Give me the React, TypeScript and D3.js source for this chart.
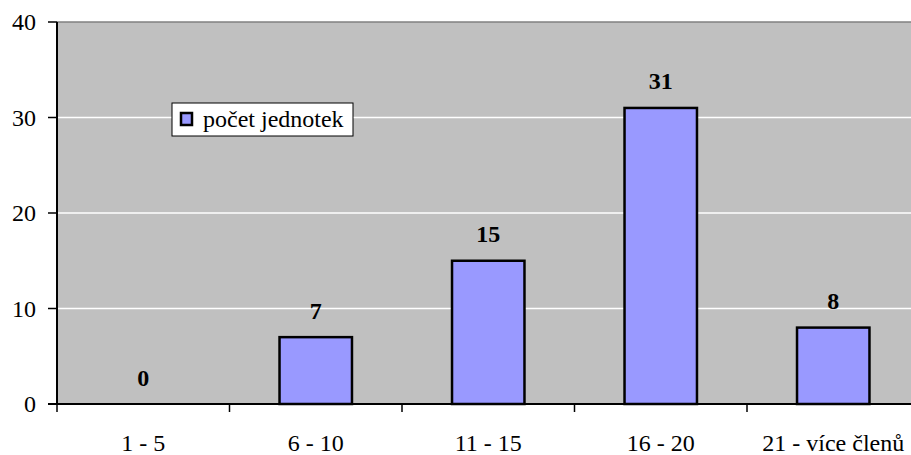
import React from "react";
import * as d3 from "d3";

const categories = ["1 - 5", "6 - 10", "11 - 15", "16 - 20", "21 - více členů"];
const values = [0, 7, 15, 31, 8];
const yTicks = [0, 10, 20, 30, 40];
const seriesName = "počet jednotek";

const W = 911;
const H = 455;
const plotLeft = 57;
const plotTop = 22;
const plotBottom = 404;
const bandW = 172.5;
const plotRight = plotLeft + bandW * categories.length;
const FONT = "Liberation Serif";
const FS = 24;

export default function App() {
  const x = d3.scaleBand().domain(categories).range([plotLeft, plotRight]).padding(0);
  const y = d3.scaleLinear().domain([0, 40]).range([plotBottom, plotTop]);
  const barW = x.bandwidth() * 0.42;

  return (
    <svg width={W} height={H} style={{ position: "absolute", left: 0, top: 0 }}>
      <rect x={0} y={0} width={W} height={H} fill="#fff" />
      <rect x={plotLeft} y={plotTop} width={plotRight - plotLeft} height={plotBottom - plotTop} fill="#C0C0C0" />
      <line x1={plotLeft} x2={plotRight} y1={plotTop} y2={plotTop} stroke="#808080" strokeWidth={1.5} />
      {yTicks.filter((t) => t > 0 && t < 40).map((t) => (
        <line key={t} x1={plotLeft} x2={plotRight} y1={y(t)} y2={y(t)} stroke="#fff" strokeWidth={1.5} />
      ))}
      {values.map((v, i) => {
        const cx = x(categories[i]) + x.bandwidth() / 2;
        return (
          <g key={i}>
            {v > 0 && (
              <rect
                x={cx - barW / 2}
                y={y(v)}
                width={barW}
                height={plotBottom - y(v)}
                fill="#9999FF"
                stroke="#000"
                strokeWidth={2.5}
              />
            )}
            <text x={cx} y={y(v) - 18.5} textAnchor="middle" fontFamily={FONT} fontSize={FS} fontWeight="bold" fill="#000">
              {v}
            </text>
          </g>
        );
      })}
      <line x1={plotLeft} x2={plotLeft} y1={plotTop} y2={plotBottom} stroke="#000" strokeWidth={2} />
      <line x1={plotLeft - 9} x2={plotRight} y1={plotBottom} y2={plotBottom} stroke="#000" strokeWidth={2} />
      {yTicks.map((t) => (
        <g key={t}>
          <line x1={plotLeft - 9} x2={plotLeft} y1={y(t)} y2={y(t)} stroke="#000" strokeWidth={1.5} />
          <text x={36} y={y(t) + 8} textAnchor="end" fontFamily={FONT} fontSize={FS} fill="#000">
            {t}
          </text>
        </g>
      ))}
      {categories.map((c) => (
        <g key={c}>
          <line x1={x(c)} x2={x(c)} y1={plotBottom} y2={plotBottom + 8} stroke="#000" strokeWidth={1.5} />
          <text x={x(c) + x.bandwidth() / 2} y={451} textAnchor="middle" fontFamily={FONT} fontSize={FS} fill="#000">
            {c}
          </text>
        </g>
      ))}
      <rect x={172} y={103} width={181} height={33} fill="#fff" stroke="#000" strokeWidth={1} />
      <rect x={181} y={113} width={11} height={12} fill="#9999FF" stroke="#000" strokeWidth={2.5} />
      <text x={203} y={127} fontFamily={FONT} fontSize={FS} fill="#000">
        {seriesName}
      </text>
    </svg>
  );
}
